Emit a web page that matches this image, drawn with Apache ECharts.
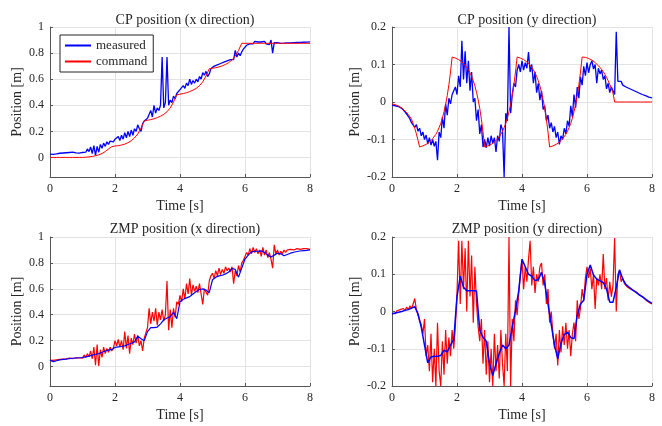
<!DOCTYPE html>
<html>
<head>
<meta charset="utf-8">
<script src="https://cdn.jsdelivr.net/npm/echarts@6/dist/echarts.min.js"></script>
<style>
html, body { margin: 0; padding: 0; background: #fff; }
#main { width: 662px; height: 426px; }
</style>
</head>
<body>
<div id="main"></div>
<script>
// sample spacing of the value arrays below (seconds)
var DT_FINE = 0.05;
var DT_COARSE = 0.1;

var timeTicks = [0, 2, 4, 6, 8];
var posTicksX = [0, 0.2, 0.4, 0.6, 0.8, 1];
var posTicksY = [-0.2, -0.1, 0, 0.1, 0.2];

// CP x: command (0.1 s), measured (0.05 s)
var cpxCommand = [
    0, 0, 0, 0, 0, 0, 0, 0, 0, 0, 0,
    0.002, 0.004, 0.008, 0.013, 0.02, 0.03, 0.045, 0.065, 0.082,
    0.088, 0.09, 0.095, 0.102, 0.113, 0.128, 0.15, 0.18, 0.225, 0.28,
    0.285, 0.29, 0.296, 0.305, 0.316, 0.33, 0.35, 0.38, 0.425, 0.48,
    0.485, 0.49, 0.496, 0.505, 0.516, 0.53, 0.55, 0.58, 0.625, 0.68,
    0.684, 0.688, 0.694, 0.702, 0.713, 0.727, 0.747, 0.777, 0.82, 0.875,
    0.875, 0.875, 0.875, 0.875, 0.875, 0.875, 0.875, 0.875, 0.875, 0.875,
    0.875, 0.875, 0.875, 0.875, 0.875, 0.875, 0.875, 0.875, 0.875, 0.875, 0.875
];
var cpxMeasured = [
    0.025, 0.028, 0.024, 0.03, 0.027, 0.03, 0.032, 0.029, 0.034, 0.031, 0.036, 0.033, 0.038, 0.034, 0.04, 0.036, 0.035, 0.04, 0.033, 0.042,
    0.038, 0.05, 0.04, 0.065, 0.045, 0.08, 0.03, 0.09, 0.015, 0.085, 0.04, 0.1, 0.07, 0.11, 0.085, 0.12, 0.1, 0.125, 0.11, 0.12,
    0.14, 0.125, 0.16, 0.13, 0.17, 0.14, 0.19, 0.15, 0.2, 0.16, 0.21, 0.17, 0.22, 0.2, 0.25, 0.22, 0.2, 0.26, 0.28, 0.275,
    0.3, 0.29, 0.36, 0.31, 0.4, 0.34, 0.38, 0.36, 0.4, 0.77, 0.38, 0.42, 0.77, 0.4, 0.44, 0.42, 0.47, 0.45, 0.49, 0.5,
    0.52, 0.51, 0.55, 0.53, 0.57, 0.55, 0.6, 0.56, 0.59, 0.57, 0.6, 0.58, 0.62, 0.6, 0.65, 0.63, 0.66, 0.62, 0.64, 0.68,
    0.69, 0.7, 0.69, 0.71, 0.7, 0.72, 0.71, 0.73, 0.72, 0.74, 0.73, 0.75, 0.76, 0.75, 0.82, 0.77, 0.8, 0.78, 0.81, 0.83,
    0.84, 0.86, 0.85, 0.87, 0.88, 0.87, 0.89, 0.875, 0.885, 0.87, 0.885, 0.875, 0.89, 0.87, 0.885, 0.865, 0.9, 0.8, 0.88, 0.87,
    0.88, 0.87, 0.875, 0.88, 0.876, 0.88, 0.878, 0.882, 0.879, 0.883, 0.88, 0.884, 0.881, 0.885, 0.882, 0.886, 0.883, 0.887, 0.884, 0.888,
    0.886
];

// CP y: command and measured (0.05 s)
var cpyCommand = [
    -0.005, -0.006, -0.007, -0.009, -0.011, -0.013, -0.016, -0.02, -0.024, -0.029, -0.033, -0.038, -0.046, -0.057, -0.07, -0.085, -0.102, -0.12,
    -0.119, -0.117, -0.115, -0.113, -0.11, -0.107, -0.103, -0.098, -0.093, -0.086, -0.078, -0.068, -0.057, -0.043, -0.026, -0.006, 0.017, 0.046, 0.08, 0.12,
    0.119, 0.117, 0.115, 0.113, 0.11, 0.107, 0.103, 0.098, 0.093, 0.086, 0.078, 0.068, 0.057, 0.043, 0.026, 0.006, -0.017, -0.046, -0.08, -0.12,
    -0.119, -0.117, -0.115, -0.113, -0.11, -0.107, -0.103, -0.098, -0.093, -0.086, -0.078, -0.068, -0.057, -0.043, -0.026, -0.006, 0.017, 0.046, 0.08, 0.12,
    0.119, 0.117, 0.115, 0.113, 0.11, 0.107, 0.103, 0.098, 0.093, 0.086, 0.078, 0.068, 0.057, 0.043, 0.026, 0.006, -0.017, -0.046, -0.08, -0.12,
    -0.119, -0.117, -0.115, -0.113, -0.11, -0.107, -0.103, -0.098, -0.093, -0.086, -0.078, -0.068, -0.057, -0.043, -0.026, -0.006, 0.017, 0.046, 0.08, 0.12,
    0.1195, 0.119, 0.118, 0.116, 0.114, 0.112, 0.109, 0.105, 0.101, 0.097, 0.092, 0.087, 0.081, 0.074, 0.066, 0.057, 0.047, 0.036, 0.024, 0,
    0, 0, 0, 0, 0, 0, 0, 0, 0, 0, 0, 0, 0, 0, 0, 0, 0, 0, 0, 0, 0, 0, 0
];
var cpyMeasured = [
    -0.008, -0.007, -0.01, -0.009, -0.012, -0.014, -0.017, -0.02, -0.026, -0.03, -0.038, -0.045, -0.055, -0.05, -0.068, -0.06, -0.078, -0.07, -0.09, -0.08,
    -0.1, -0.088, -0.112, -0.095, -0.115, -0.1, -0.118, -0.105, -0.155, -0.08, -0.095, -0.04, -0.07, -0.005, -0.035, 0.01, -0.005, 0.02, 0.015, 0.04,
    0.02, 0.07, 0.04, 0.163, 0.06, 0.135, 0.05, 0.11, 0.03, 0.08, 0, 0.01, -0.05, -0.02, -0.085, -0.06, -0.12, -0.1, -0.122, -0.095,
    -0.118, -0.09, -0.11, -0.095, -0.133, -0.09, -0.105, -0.06, -0.075, -0.2, -0.03, -0.05, 0.2, -0.03, 0.02, 0.05, 0.04, 0.085, 0.1, 0.08,
    0.11, 0.085, 0.105, 0.09, 0.133, 0.08, 0.1, 0.05, 0.08, 0.025, 0.05, 0.005, 0.03, -0.02, -0.01, -0.05, -0.035, -0.07, -0.055, -0.08,
    -0.065, -0.095, -0.08, -0.113, -0.09, -0.1, -0.07, -0.085, -0.05, -0.065, -0.01, -0.04, 0.02, -0.015, 0.04, 0.01, 0.067, 0.045, 0.095, 0.07,
    0.105, 0.078, 0.1, 0.11, 0.088, 0.1, 0.05, 0.09, 0.075, 0.085, 0.06, 0.07, 0.035, 0.05, 0.025, 0.04, 0.03, 0.02, 0.187, 0.055,
    0.05, 0.055, 0.045, 0.047, 0.04, 0.042, 0.036, 0.038, 0.032, 0.033, 0.028, 0.029, 0.024, 0.025, 0.02, 0.021, 0.017, 0.016, 0.013, 0.014,
    0.011
];

// ZMP x: measured (blue, 0.1 s), command (red, 0.05 s)
var zmpxMeasured = [
    0.05, 0.038, 0.045, 0.052, 0.055, 0.058, 0.062, 0.064, 0.066, 0.068,
    0.07, 0.075, 0.08, 0.088, 0.095, 0.1, 0.11, 0.12, 0.127, 0.132,
    0.148, 0.152, 0.155, 0.16, 0.17, 0.18, 0.19, 0.235, 0.215, 0.2,
    0.27, 0.3, 0.3, 0.305, 0.33, 0.36, 0.375, 0.385, 0.42, 0.37,
    0.5, 0.52, 0.53, 0.54, 0.56, 0.58, 0.595, 0.6, 0.59, 0.57,
    0.67, 0.69, 0.7, 0.705, 0.715, 0.73, 0.757, 0.75, 0.69, 0.76,
    0.83, 0.86, 0.885, 0.89, 0.89, 0.893, 0.88, 0.86, 0.845, 0.86,
    0.875, 0.87, 0.855, 0.865, 0.875, 0.882, 0.888, 0.892, 0.895, 0.897,
    0.9
];
var zmpxCommand = [
    0.05, 0.045, 0.048, 0.055, 0.052, 0.06, 0.055, 0.065, 0.058, 0.07, 0.06, 0.072, 0.065, 0.078, 0.062, 0.075, 0.068, 0.08, 0.066, 0.075,
    0.065, 0.09, 0.07, 0.1, 0.075, 0.12, 0.06, 0.15, 0.01, 0.17, 0.005, 0.13, 0.07, 0.15, 0.1, 0.14, 0.11, 0.15, 0.12, 0.14,
    0.2, 0.16, 0.21, 0.15, 0.2, 0.13, 0.27, 0.14, 0.24, 0.1, 0.22, 0.17, 0.25, 0.18, 0.24, 0.16, 0.2, 0.12, 0.22, 0.26,
    0.3, 0.45, 0.33, 0.42, 0.35, 0.45, 0.32, 0.42, 0.36, 0.44, 0.35, 0.4, 0.66, 0.28, 0.44, 0.3, 0.45, 0.38, 0.5, 0.48,
    0.55, 0.5, 0.6, 0.52, 0.64, 0.56, 0.68, 0.55, 0.63, 0.58, 0.62, 0.57, 0.64, 0.56, 0.48, 0.6, 0.59, 0.55, 0.66, 0.7,
    0.72, 0.68, 0.74, 0.7, 0.76, 0.71, 0.75, 0.72, 0.77, 0.74, 0.76, 0.73, 0.77, 0.64, 0.74, 0.7, 0.78, 0.73, 0.8, 0.82,
    0.85, 0.88, 0.86, 0.91, 0.87, 0.92, 0.88, 0.91, 0.87, 0.9, 0.85, 0.92, 0.86, 0.9, 0.84, 0.88, 0.83, 0.76, 0.94, 0.87,
    0.9, 0.86, 0.89, 0.87, 0.9, 0.88, 0.9, 0.885, 0.905, 0.89, 0.9, 0.89, 0.91, 0.895, 0.905, 0.9, 0.91, 0.895, 0.91, 0.9,
    0.905
];

// ZMP y: measured (blue, 0.1 s), command (red, 0.05 s)
var zmpyMeasured = [
    -0.006, -0.004, -0.002, 0, 0.003, 0.005, 0.009, 0.013, -0.006, -0.042,
    -0.09, -0.138, -0.122, -0.12, -0.12, -0.118, -0.104, -0.108, -0.09, -0.075,
    0.04, 0.095, 0.065, 0.056, 0.056, 0.056, 0.055, -0.05, -0.069, -0.08,
    -0.14, -0.172, -0.14, -0.113, -0.09, -0.1, -0.09, -0.042, 0.003, 0.056,
    0.14, 0.12, 0.1, 0.095, 0.083, 0.085, 0.105, 0.074, 0.02, -0.035,
    -0.09, -0.127, -0.085, -0.062, -0.055, -0.07, -0.073, -0.01, 0.02, 0.03,
    0.1, 0.125, 0.098, 0.087, 0.082, 0.078, 0.06, 0.025, 0.025, 0.065,
    0.112, 0.087, 0.072, 0.065, 0.058, 0.052, 0.045, 0.04, 0.033, 0.027,
    0.022
];
var zmpyCommand = [
    -0.005, -0.002, -0.006, 0.002, -0.003, 0.005, 0, 0.008, 0.002, 0.012, 0.005, 0.015, 0.008, 0.02, 0.035, 0.005, -0.01, -0.025, -0.035, -0.06,
    -0.02, -0.12, -0.09, -0.16, -0.06, -0.19, -0.1, -0.2, -0.03, -0.16, -0.2, -0.08, -0.17, -0.05, -0.14, -0.07, -0.12, -0.05, -0.1, -0.04,
    0.05, 0.19, 0.02, 0.19, 0.06, 0.17, 0, 0.19, 0.04, 0.15, -0.03, 0.12, 0.02, -0.04, -0.08, -0.02, -0.14, -0.05, -0.17, -0.08,
    -0.19, -0.1, -0.2, -0.06, -0.16, -0.09, -0.18, -0.05, -0.14, -0.2, -0.06, -0.16, 0.2, -0.2, -0.02, -0.08, 0.03, -0.01, 0.05, 0.1,
    0.14, 0.06, 0.12, 0.08, 0.14, 0.19, 0.07, 0.12, 0.05, 0.1, 0.08, 0.12, 0.13, 0.07, 0.1, 0.02, 0.06, -0.03, 0, -0.06,
    -0.1, -0.06, -0.145, -0.05, -0.11, -0.04, -0.09, -0.03, -0.1, -0.05, -0.12, -0.06, -0.03, -0.08, 0.03, -0.02, 0.01, 0.06, 0.03, 0.09,
    0.12, 0.09, 0.115, 0.06, 0.1, 0.007, 0.09, 0.07, 0.1, 0.06, 0.154, 0.06, 0.09, 0.03, 0.08, 0.04, 0.07, 0.197, 0, 0.1,
    0.11, 0.08, 0.09, 0.075, 0.07, 0.065, 0.068, 0.06, 0.062, 0.055, 0.056, 0.05, 0.048, 0.043, 0.041, 0.036, 0.033, 0.028, 0.027, 0.022,
    0.02
];

var titles = ['CP position (x direction)', 'CP position (y direction)', 'ZMP position (x direction)', 'ZMP position (y direction)'];

var FONT = '"Liberation Serif", "Times New Roman", serif';
var INK = '#262626';
var BLUE = '#0000ff';
var RED = '#ff0000';

function toPairs(vals, dt) {
    return vals.map(function (v, i) {
        return [Math.round(i * dt * 1000) / 1000, v];
    });
}

var grids = [
    { left: 50, top: 27, width: 260, height: 150 },
    { left: 392, top: 27, width: 260, height: 150 },
    { left: 50, top: 237, width: 260, height: 149 },
    { left: 392, top: 237, width: 260, height: 149 }
];

function makeX(gi) {
    return {
        type: 'value', gridIndex: gi, min: 0, max: 8, interval: 2,
        name: 'Time [s]', nameLocation: 'middle', nameGap: 22,
        nameTextStyle: { fontFamily: FONT, fontSize: 14, color: INK },
        axisLine: { onZero: false, lineStyle: { color: '#555', width: 1 } },
        axisTick: { inside: true, length: 3, customValues: timeTicks, lineStyle: { color: '#555' } },
        axisLabel: { fontFamily: FONT, fontSize: 12, color: INK, margin: 6, customValues: timeTicks },
        splitLine: { show: true, lineStyle: { color: '#e3e3e3', width: 1 } }
    };
}

function makeY(gi, min, max, ticks, gap) {
    return {
        type: 'value', gridIndex: gi, min: min, max: max,
        name: 'Position [m]', nameLocation: 'middle', nameGap: gap,
        nameTextStyle: { fontFamily: FONT, fontSize: 14, color: INK },
        axisLine: { show: true, onZero: false, lineStyle: { color: '#555', width: 1 } },
        axisTick: { show: true, inside: true, length: 3, customValues: ticks, lineStyle: { color: '#555' } },
        axisLabel: { fontFamily: FONT, fontSize: 12, color: INK, margin: 6, customValues: ticks },
        splitLine: { show: true, lineStyle: { color: '#e3e3e3', width: 1 } }
    };
}

function line(name, gi, vals, dt, color, width) {
    return {
        name: name, type: 'line', xAxisIndex: gi, yAxisIndex: gi,
        data: toPairs(vals, dt), symbol: 'none', showSymbol: false,
        lineStyle: { color: color, width: width }, itemStyle: { color: color },
        emphasis: { disabled: true }
    };
}

var chart = echarts.init(document.getElementById('main'));
chart.setOption({
    animation: false,
    backgroundColor: '#fff',
    title: titles.map(function (t, i) {
        return {
            text: t, left: grids[i].left + 130, top: i < 2 ? 8 : 217, textAlign: 'center',
            textStyle: { fontFamily: FONT, fontSize: 14, fontWeight: 'normal', color: INK }
        };
    }),
    legend: {
        left: 60, top: 35, orient: 'vertical',
        data: ['measured', 'command'],
        itemWidth: 26, itemHeight: 2, itemGap: 3,
        padding: [4, 6, 4, 4],
        borderColor: INK, borderWidth: 1, backgroundColor: '#fff',
        textStyle: { fontFamily: FONT, fontSize: 13, color: INK }
    },
    grid: grids,
    xAxis: [makeX(0), makeX(1), makeX(2), makeX(3)],
    yAxis: [
        makeY(0, -0.15, 1, posTicksX, 26),
        makeY(1, -0.2, 0.2, posTicksY, 30),
        makeY(2, -0.15, 1, posTicksX, 26),
        makeY(3, -0.2, 0.2, posTicksY, 30)
    ],
    series: [
        line('measured', 0, cpxMeasured, DT_FINE, BLUE, 1.3),
        line('command', 0, cpxCommand, DT_COARSE, RED, 1),
        line('measured', 1, cpyMeasured, DT_FINE, BLUE, 1.3),
        line('command', 1, cpyCommand, DT_FINE, RED, 1),
        line('command', 2, zmpxCommand, DT_FINE, RED, 1.2),
        line('measured', 2, zmpxMeasured, DT_COARSE, BLUE, 1.2),
        line('command', 3, zmpyCommand, DT_FINE, RED, 1.2),
        line('measured', 3, zmpyMeasured, DT_COARSE, BLUE, 1.5)
    ]
});
</script>
</body>
</html>
